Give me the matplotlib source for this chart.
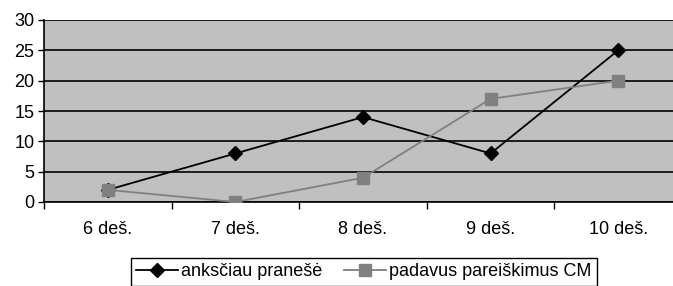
import matplotlib
matplotlib.use("Agg")
import matplotlib.pyplot as plt
import numpy as np

# ----- Data ----- #
categories = ["6 deš.", "7 deš.", "8 deš.", "9 deš.", "10 deš."]
anksciau = [2, 8, 14, 8, 25]
padavus = [2, 0, 4, 17, 20]
labels = ["anksčiau pranešė", "padavus pareiškimus CM"]

plt.rcParams['font.family'] = ['Liberation Sans', 'DejaVu Sans']
plt.rcParams['font.size'] = 13

fig = plt.figure(figsize=(6.73, 2.86), dpi=100)
ax = fig.add_axes([44/673, 84/286, 638/673, 182/286])
ax.set_facecolor("#C0C0C0")

x = np.arange(len(categories))
ax.plot(x, anksciau, color="black", linewidth=1.3, marker="D", markersize=7,
        markerfacecolor="black", markeredgecolor="black", label=labels[0], zorder=3)
ax.plot(x, padavus, color="#808080", linewidth=1.3, marker="s", markersize=8.5,
        markerfacecolor="#808080", markeredgecolor="#808080", label=labels[1], zorder=4)

ax.set_xlim(-0.5, len(categories) - 0.5)
ax.set_ylim(0, 30)
ax.set_yticks(range(0, 31, 5))
ax.set_xticks(x)
ax.set_xticklabels(categories)
ax.set_xticks(np.arange(-0.5, len(categories), 1), minor=True)
ax.tick_params(axis="x", which="major", length=0, pad=14)
ax.tick_params(axis="x", which="minor", length=5, width=1, direction="out")
ax.tick_params(axis="y", length=4, width=1, pad=3)
ax.yaxis.grid(True, color="black", linewidth=1.2)
ax.set_axisbelow(True)
for s in ["top", "right"]:
    ax.spines[s].set_visible(False)
ax.spines["left"].set_linewidth(1.2)
ax.spines["bottom"].set_linewidth(1.2)

leg = fig.legend(loc="upper center", bbox_to_anchor=(364/673, 1 - 258/286), ncol=2,
                 frameon=True, fancybox=False, edgecolor="black", framealpha=1,
                 handlelength=2.3, handletextpad=0.2, columnspacing=1.2,
                 borderpad=0.3, borderaxespad=0, fontsize=13)
leg.get_frame().set_linewidth(1.0)

fig.savefig("out.png", dpi=100)
